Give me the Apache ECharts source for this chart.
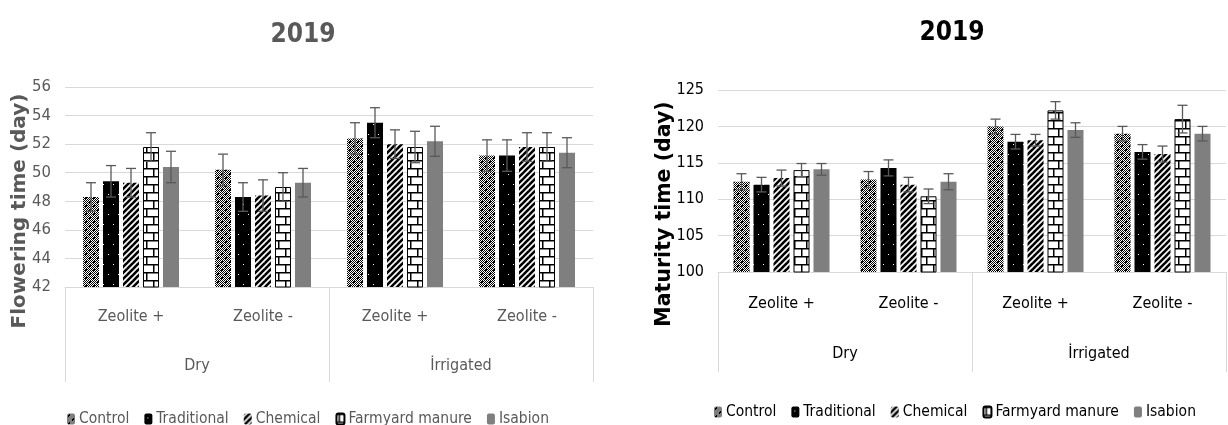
<!DOCTYPE html>
<html>
<head>
<meta charset="utf-8">
<script src="https://cdn.jsdelivr.net/npm/echarts@6/dist/echarts.min.js"></script>
<style>
html,body{margin:0;padding:0;background:#fff;}
#chart{width:1228px;height:425px;}
</style>
</head>
<body>
<div id="chart"></div>
<script>
// ---------- DATA ----------
const zeoliteLabels = ['Zeolite +', 'Zeolite -', 'Zeolite +', 'Zeolite -'];
const waterLabels = ['Dry', 'İrrigated'];
const seriesNames = ['Control', 'Traditional', 'Chemical', 'Farmyard manure', 'Isabion'];
const title2019 = '2019';
const flowName = 'Flowering time (day)';
const matName = 'Maturity time (day)';

// Flowering time (day)
const flowControl     = [48.3, 50.2, 52.4, 51.2];
const flowTraditional = [49.4, 48.3, 53.5, 51.2];
const flowChemical    = [49.3, 48.4, 52.0, 51.8];
const flowFarmyard    = [51.8, 49.0, 51.8, 51.8];
const flowIsabion     = [50.4, 49.3, 52.2, 51.4];
const flowErrControl     = [1.0, 1.1, 1.1, 1.1];
const flowErrTraditional = [1.1, 1.0, 1.05, 1.1];
const flowErrChemical    = [1.0, 1.1, 1.0, 1.0];
const flowErrFarmyard    = [1.0, 1.0, 1.1, 1.0];
const flowErrIsabion     = [1.1, 1.0, 1.05, 1.05];

// Maturity time (day)
const matControl     = [112.4, 112.7, 120.0, 119.0];
const matTraditional = [112.0, 114.3, 117.9, 116.5];
const matChemical    = [112.9, 112.0, 118.1, 116.2];
const matFarmyard    = [114.0, 110.4, 122.2, 121.0];
const matIsabion     = [114.1, 112.4, 119.5, 119.0];
const matErrControl     = [1.1, 1.1, 1.0, 1.0];
const matErrTraditional = [1.0, 1.1, 1.0, 1.0];
const matErrChemical    = [1.1, 1.0, 0.8, 1.1];
const matErrFarmyard    = [0.9, 1.0, 1.2, 1.9];
const matErrIsabion     = [0.8, 1.1, 1.0, 1.0];

const flowTicks = {min: 42, max: 56, interval: 2};
const matTicks = {min: 100, max: 125, interval: 5};

// ---------- PATTERNS ----------
function tile(w, h, draw) {
  const c = document.createElement('canvas');
  c.width = w; c.height = h;
  const ctx = c.getContext('2d');
  draw(ctx, w, h);
  return {image: c, repeat: 'repeat'};
}
const patControl = tile(8, 8, (ctx, w, h) => {
  ctx.fillStyle = '#fff'; ctx.fillRect(0, 0, w, h);
  ctx.fillStyle = '#000';
  for (let y = 0; y < h; y++) for (let x = 0; x < w; x++) if ((x + y) % 2 === 0) ctx.fillRect(x, y, 1, 1);
  ctx.fillStyle = '#000'; ctx.fillRect(1, 1, 2, 2); ctx.fillRect(5, 5, 2, 2);
  ctx.fillStyle = '#fff'; ctx.fillRect(3, 6, 1, 1); ctx.fillRect(7, 2, 1, 1);
});
const patTraditional = tile(10, 20, (ctx, w, h) => {
  ctx.fillStyle = '#000'; ctx.fillRect(0, 0, w, h);
  ctx.fillStyle = '#fff'; ctx.fillRect(3, 4, 1, 1); ctx.fillRect(8, 14, 1, 1);
});
const patChemical = tile(6, 6, (ctx, w, h) => {
  ctx.fillStyle = '#fff'; ctx.fillRect(0, 0, w, h);
  ctx.strokeStyle = '#000'; ctx.lineWidth = 2.6;
  for (let k = -6; k <= 6; k += 6) {
    ctx.beginPath(); ctx.moveTo(k - 1, h + 1); ctx.lineTo(k + w + 1, -1); ctx.stroke();
  }
});
const patFarmyard = tile(12, 16, (ctx, w, h) => {
  ctx.fillStyle = '#fff'; ctx.fillRect(0, 0, w, h);
  ctx.fillStyle = '#000';
  ctx.fillRect(0, 0, w, 1.5); ctx.fillRect(0, 8, w, 1.5);
  ctx.fillRect(2, 0, 1.5, 8); ctx.fillRect(9, 8, 1.5, 8);
});
const isabionColor = '#7f7f7f';
const fills = [patControl, patTraditional, patChemical, patFarmyard, isabionColor];

// ---------- HELPERS ----------
const FONT = "'Liberation Sans Narrow','DejaVu Sans Condensed','Arial Narrow',sans-serif";
const NAMEFONT = "'DejaVu Sans',sans-serif";
const GRIDC = '#d9d9d9';
const BARW = 16, STEP = 20;

function errData(vals, errs) {
  const out = [];
  vals.forEach((arr, s) => arr.forEach((v, c) => out.push([c, s, v, errs[s][c]])));
  return out;
}
function errRender(params, api) {
  const c = api.value(0), s = api.value(1), v = api.value(2), e = api.value(3);
  const top = api.coord([c, v + e]);
  const bot = api.coord([c, v - e]);
  const x = top[0] + (s - 2) * STEP;
  const hw = 5;
  const st = {stroke: '#595959', lineWidth: 1.3};
  return {type: 'group', children: [
    {type: 'line', shape: {x1: x, y1: top[1], x2: x, y2: bot[1]}, style: st},
    {type: 'line', shape: {x1: x - hw, y1: top[1], x2: x + hw, y2: top[1]}, style: st},
    {type: 'line', shape: {x1: x - hw, y1: bot[1], x2: x + hw, y2: bot[1]}, style: st}
  ]};
}

const flowVals = [flowControl, flowTraditional, flowChemical, flowFarmyard, flowIsabion];
const flowErrs = [flowErrControl, flowErrTraditional, flowErrChemical, flowErrFarmyard, flowErrIsabion];
const matVals = [matControl, matTraditional, matChemical, matFarmyard, matIsabion];
const matErrs = [matErrControl, matErrTraditional, matErrChemical, matErrFarmyard, matErrIsabion];

const catData = zeoliteLabels.map((z, i) => i + '|' + z);

function xAxes(gridIndex, color, m1, m2, tickLen) {
  return [
    {type: 'category', gridIndex, data: catData, position: 'bottom',
     axisLine: {show: true, lineStyle: {color: GRIDC, width: 1}},
     axisTick: {show: false},
     axisLabel: {color, fontFamily: FONT, fontSize: 16, margin: m1, formatter: v => v.split('|')[1]}},
    {type: 'category', gridIndex, data: waterLabels, position: 'bottom',
     axisLine: {show: false},
     axisTick: {show: true, length: tickLen, lineStyle: {color: GRIDC, width: 1}},
     axisLabel: {color, fontFamily: FONT, fontSize: 16, margin: m2}}
  ];
}

function barSeries(vals, xIdx, yIdx) {
  return vals.map((arr, s) => ({
    name: seriesNames[s], type: 'bar', xAxisIndex: xIdx, yAxisIndex: yIdx,
    barWidth: BARW, barGap: '25%', data: arr,
    itemStyle: s === 3 ? {color: fills[s], borderColor: '#000', borderWidth: 1} : {color: fills[s]}
  }));
}

const option = {
  animation: false,
  backgroundColor: '#fff',
  title: [
    {text: title2019, left: 298, top: 17, textAlign: 'center',
     textStyle: {color: '#595959', fontFamily: FONT, fontSize: 26, fontWeight: 'bold'}},
    {text: title2019, left: 947, top: 15, textAlign: 'center',
     textStyle: {color: '#000', fontFamily: FONT, fontSize: 26, fontWeight: 'bold'}}
  ],
  legend: [
    {data: seriesNames.map(n => ({name: n})), left: 62, top: 406, itemWidth: 8, itemHeight: 11, itemGap: 15,
     textStyle: {color: '#595959', fontFamily: FONT, fontSize: 15.5, padding: [0, 0, 0, -1]}},
    {data: seriesNames.map(n => ({name: n})), left: 709, top: 399, itemWidth: 8, itemHeight: 11, itemGap: 15,
     textStyle: {color: '#000', fontFamily: FONT, fontSize: 15.5, padding: [0, 0, 0, -1]}}
  ],
  grid: [
    {left: 65, top: 87, width: 528, height: 200},
    {left: 718, top: 90, width: 508, height: 182}
  ],
  xAxis: [].concat(xAxes(0, '#595959', 22, 71, 95), xAxes(1, '#000', 24, 74, 100)),
  yAxis: [
    {type: 'value', gridIndex: 0, min: flowTicks.min, max: flowTicks.max, interval: flowTicks.interval,
     axisLine: {show: false}, axisTick: {show: false},
     axisLabel: {color: '#595959', fontFamily: FONT, fontSize: 16.5, margin: 14},
     splitLine: {lineStyle: {color: GRIDC, width: 1}}},
    {type: 'value', gridIndex: 1, min: matTicks.min, max: matTicks.max, interval: matTicks.interval,
     axisLine: {show: false}, axisTick: {show: false},
     axisLabel: {color: '#000', fontFamily: FONT, fontSize: 16, margin: 14},
     splitLine: {lineStyle: {color: GRIDC, width: 1}}}
  ],
  graphic: [
    {type: 'text', x: 20, y: 211, rotation: Math.PI / 2,
     style: {text: flowName, fill: '#595959', font: 'bold 20px ' + NAMEFONT, align: 'center', verticalAlign: 'middle'}},
    {type: 'text', x: 665, y: 214, rotation: Math.PI / 2,
     style: {text: matName, fill: '#000', font: 'bold 20.5px ' + NAMEFONT, align: 'center', verticalAlign: 'middle'}}
  ],
  series: [].concat(
    barSeries(flowVals, 0, 0),
    barSeries(matVals, 2, 1),
    [
      {type: 'custom', xAxisIndex: 0, yAxisIndex: 0, z: 5, renderItem: errRender,
       encode: {x: 0, y: 2}, data: errData(flowVals, flowErrs), silent: true},
      {type: 'custom', xAxisIndex: 2, yAxisIndex: 1, z: 5, renderItem: errRender,
       encode: {x: 0, y: 2}, data: errData(matVals, matErrs), silent: true}
    ]
  )
};

const chart = echarts.init(document.getElementById('chart'), null, {renderer: 'canvas'});
chart.setOption(option);
</script>
</body>
</html>
